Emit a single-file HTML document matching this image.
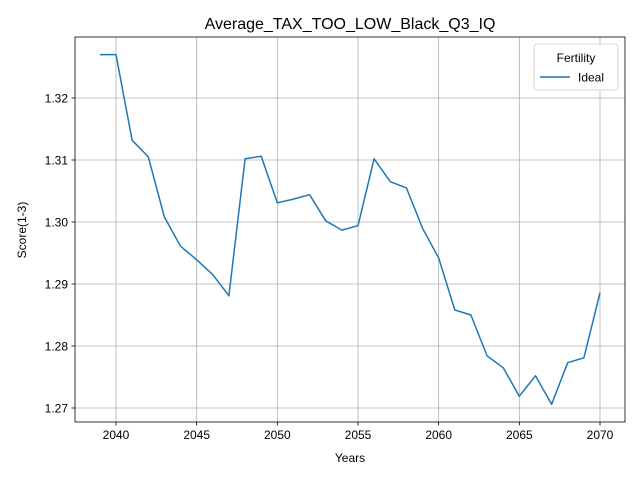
<!DOCTYPE html>
<html><head><meta charset="utf-8">
<style>
body{margin:0;background:#fff;font-family:"Liberation Sans","DejaVu Sans",sans-serif;}
svg{display:block}
</style></head>
<body>
<svg id="chart" width="640" height="480" xmlns="http://www.w3.org/2000/svg"></svg>
<script>
const years=[2039,2040,2041,2042,2043,2044,2045,2046,2047,2048,2049,2050,2051,2052,2053,2054,2055,2056,2057,2058,2059,2060,2061,2062,2063,2064,2065,2066,2067,2068,2069,2070];
const idealScores=[1.3270,1.3270,1.3132,1.3105,1.3008,1.2961,1.2939,1.2915,1.2881,1.3102,1.3106,1.3031,1.3037,1.3044,1.3002,1.2987,1.2994,1.3102,1.3065,1.3055,1.2990,1.2942,1.2858,1.2850,1.2784,1.2765,1.2719,1.2752,1.2706,1.2773,1.2781,1.2886];
const xTicks=[2040,2045,2050,2055,2060,2065,2070];
const yTicks=[1.27,1.28,1.29,1.30,1.31,1.32];
const yTickLabels=["1.27","1.28","1.29","1.30","1.31","1.32"];

const L=75,R=625,T=37,B=422;
const xs=v=>116+(v-2040)*(484/30);
const ys=v=>408-(v-1.27)*6200;
const svg=document.getElementById('chart');
const NS='http://www.w3.org/2000/svg';
function mk(tag,attrs,parent){const e=document.createElementNS(NS,tag);for(const k in attrs)e.setAttribute(k,attrs[k]);(parent||svg).appendChild(e);return e;}

const grid=mk('g',{});


xTicks.forEach(t=>{const x=xs(t);
 const gl=mk('line',{x1:x,x2:x,y1:T,y2:B,stroke:'#b0b0b0','stroke-width':0.8},grid);
 
 mk('line',{x1:x,x2:x,y1:B,y2:B+3.5,stroke:'#000','stroke-width':0.8});
 const tx=mk('text',{x:x,y:B+17,'text-anchor':'middle','font-size':12,fill:'#000'});tx.textContent=t;
 
});
yTicks.forEach((t,i)=>{const y=ys(t);
 const gl=mk('line',{x1:L,x2:R,y1:y,y2:y,stroke:'#b0b0b0','stroke-width':0.8},grid);
 
 mk('line',{x1:L-3.5,x2:L,y1:y,y2:y,stroke:'#000','stroke-width':0.8});
 const tx=mk('text',{x:L-7,y:y+4.5,'text-anchor':'end','font-size':12,fill:'#000'});tx.textContent=yTickLabels[i];
 
});

const pts=years.map((y,i)=>xs(y).toFixed(1)+','+ys(idealScores[i]).toFixed(1)).join(' ');
const line=mk('polyline',{points:pts,fill:'none',stroke:'#1f77b4','stroke-width':1.5,'stroke-linejoin':'round'});



const frame=mk('rect',{x:L,y:T,width:R-L,height:B-T,fill:'none',stroke:'#000','stroke-width':0.8});



const title=mk('text',{x:350,y:29,'text-anchor':'middle','font-size':16,fill:'#000'});
title.textContent='Average_TAX_TOO_LOW_Black_Q3_IQ';

const xl=mk('text',{x:350,y:462,'text-anchor':'middle','font-size':12,fill:'#000'});
xl.textContent='Years';

const yl=mk('text',{x:0,y:0,'text-anchor':'middle','font-size':12,fill:'#000',transform:'translate(26,230) rotate(-90)'});
yl.textContent='Score(1-3)';


const lg=mk('g',{});

mk('rect',{x:534,y:44,width:84,height:46,rx:3,fill:'#fff',stroke:'#ccc','stroke-width':0.8},lg);
const lt=mk('text',{x:576,y:62,'text-anchor':'middle','font-size':12,fill:'#000'},lg);lt.textContent='Fertility';

const ll=mk('line',{x1:540,x2:570,y1:77,y2:77,stroke:'#1f77b4','stroke-width':1.5},lg);

const le=mk('text',{x:578,y:81.5,'font-size':12,fill:'#000'},lg);le.textContent='Ideal';

</script>
</body></html>
